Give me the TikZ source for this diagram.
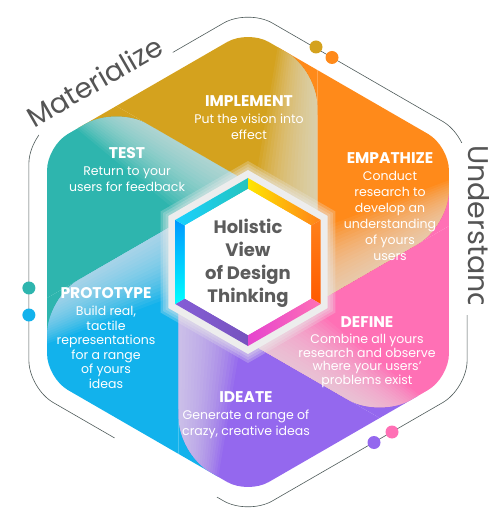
\documentclass[tikz,border=0pt]{standalone}
\usepackage{fontspec}
\setmainfont{Poppins}

\definecolor{goldc}{HTML}{D4A21E}
\definecolor{orangec}{HTML}{FF8A1A}
\definecolor{pinkc}{HTML}{FF70B5}
\definecolor{purplec}{HTML}{9468EE}
\definecolor{bluec}{HTML}{12B2EC}
\definecolor{tealc}{HTML}{2EB5AE}
\definecolor{framec}{HTML}{4F5B5A}
\definecolor{wordc}{HTML}{555555}
\definecolor{corec}{HTML}{5C5C5C}

\tikzset{
  frame/.style={draw=framec, line width=0.6pt},
  dot/.style={circle, inner sep=0pt, minimum size=13pt},
  stage/.style={text=white, align=center, inner sep=0pt, font=\fontsize{12.5}{16}\selectfont},
  outerword/.style={text=wordc, inner sep=0pt, font=\fontsize{28}{28}\selectfont},
}
\newcommand{\stagehead}[1]{{\fontsize{15.5}{16}\selectfont\bfseries #1}}
% one sector of the pinwheel (upper left one), the others are rotations of it
\newcommand{\sectorpath}{(-200.92,40) -- (-200.92,-36) -- (150:80) -- (90:80) [rounded corners=36] -- (-131.64,156) [rounded corners=24] -- (150:232) -- cycle}

\begin{document}
\begin{tikzpicture}[x=1pt,y=1pt]
\useasboundingbox (-248,-249) rectangle (241,262);

% outer frame with its gaps
\draw[frame, rounded corners=28] (-219.1,0) -- (150:253) -- (90:253) -- (30:253) -- (-30:253) -- (-90:253) -- (-150:253) -- cycle;
\fill[white, shift={(150:253)}, rotate=30] (9,-9) rectangle (166,5);
\fill[white] (207,-53) rectangle (228,119);
\fill[white, shift={(-150:253)}, rotate=-30] (99,-6) rectangle (217,6);

\node[outerword, rotate=30, anchor=base west] (materialize) at (-213.5,133.6) {Materialize};
\begin{scope}
  \clip (200,-42) rectangle (241,130);
  \node[outerword, font=\fontsize{28.5}{28}\selectfont, rotate=-90, anchor=base west] (understand) at (220.5,117) {Understand};
\end{scope}

\node[dot, fill=goldc] (dotgold) at (68,215) {};
\node[dot, fill=orangec] (dotorange) at (84,204.5) {};
\node[dot, fill=purplec] (dotpurple) at (126,-180.5) {};
\node[dot, fill=pinkc] (dotpink) at (144,-170) {};
\node[dot, fill=tealc] (dotteal) at (-219.1,-26) {};
\node[dot, fill=bluec] (dotblue) at (-219.1,-53) {};

% corners left under the rounded tips
\foreach \ang/\col/\prev in {0/tealc/goldc,60/bluec/tealc,120/purplec/bluec,180/pinkc/purplec,240/orangec/pinkc,300/goldc/orangec}{
  \fill[\prev, rotate=\ang] (-131.64,156) -- ++(210:45) -- ++(77.94,0) -- cycle;
}
% the six sectors
\foreach \ang/\col in {0/tealc,60/bluec,120/purplec,180/pinkc,240/orangec,300/goldc}{
  \begin{scope}[rotate=\ang]
    \fill[\col] \sectorpath;
    \clip \sectorpath;
    \foreach \d in {4,8,...,72}
      \fill[black!9, opacity=0.065, shift={(90:80)}, rotate=150] (-20,0) -- (175,0) -- (175,0.55*\d) -- (-20,\d) -- cycle;
  \end{scope}
}

% centre
\foreach \rr in {101,98,95}
  \fill[black!8, opacity=0.25] (90:\rr) -- (30:\rr) -- (-30:\rr) -- (-90:\rr) -- (-150:\rr) -- (150:\rr) -- cycle;
\fill[black!7] (90:92) -- (30:92) -- (-30:92) -- (-90:92) -- (-150:92) -- (150:92) -- cycle;
\shade[left color=yellow!80!orange, right color=orange!90!red!90] (90:84) -- (30:84) -- (30:73) -- (90:73) -- cycle;
\shade[top color=orange!90!red!90, bottom color=orange!70!red] (30:84) -- (-30:84) -- (-30:73) -- (30:73) -- cycle;
\shade[left color=magenta!60!pink!90!black, right color=pinkc] (-30:84) -- (-90:84) -- (-90:73) -- (-30:73) -- cycle;
\shade[left color=purplec!90!black, right color=purplec!80!black] (-90:84) -- (-150:84) -- (-150:73) -- (-90:73) -- cycle;
\shade[top color=cyan!60!blue, bottom color=cyan] (-150:84) -- (150:84) -- (150:73) -- (-150:73) -- cycle;
\shade[left color=cyan!80!blue!90, right color=tealc!80!cyan] (150:84) -- (90:84) -- (90:73) -- (150:73) -- cycle;
\fill[white] (90:73) -- (30:73) -- (-30:73) -- (-90:73) -- (-150:73) -- (150:73) -- cycle;
\node[font=\fontsize{18}{23}\selectfont\bfseries, text=corec, align=center] (core) at (0,-1) {Holistic\\View\\of Design\\Thinking};

% labels
\node[stage] (implement) at (1,144.5) {\stagehead{IMPLEMENT}\\[1pt]Put the vision into\\effect};
\node[stage] (test) at (-121,92) {\stagehead{TEST}\\[1pt]Return to your\\users for feedback};
\node[stage] (empathize) at (142,55) {\stagehead{EMPATHIZE}\\[1pt]Conduct\\research to\\develop an\\understanding\\of yours\\users};
\node[stage, font=\fontsize{12.5}{14.5}\selectfont] (prototype) at (-142,-76) {\stagehead{PROTOTYPE}\\[3pt]Build real,\\tactile\\representations\\for a range\\of yours\\ideas};
\node[stage, font=\fontsize{12.5}{13.5}\selectfont] (define) at (119,-90) {\stagehead{DEFINE}\\[3pt]Combine all yours\\research and observe\\where your users'\\problems exist};
\node[stage] (ideate) at (-2,-153) {\stagehead{IDEATE}\\[1pt]Generate a range of\\crazy, creative ideas};
\end{tikzpicture}
\end{document}
